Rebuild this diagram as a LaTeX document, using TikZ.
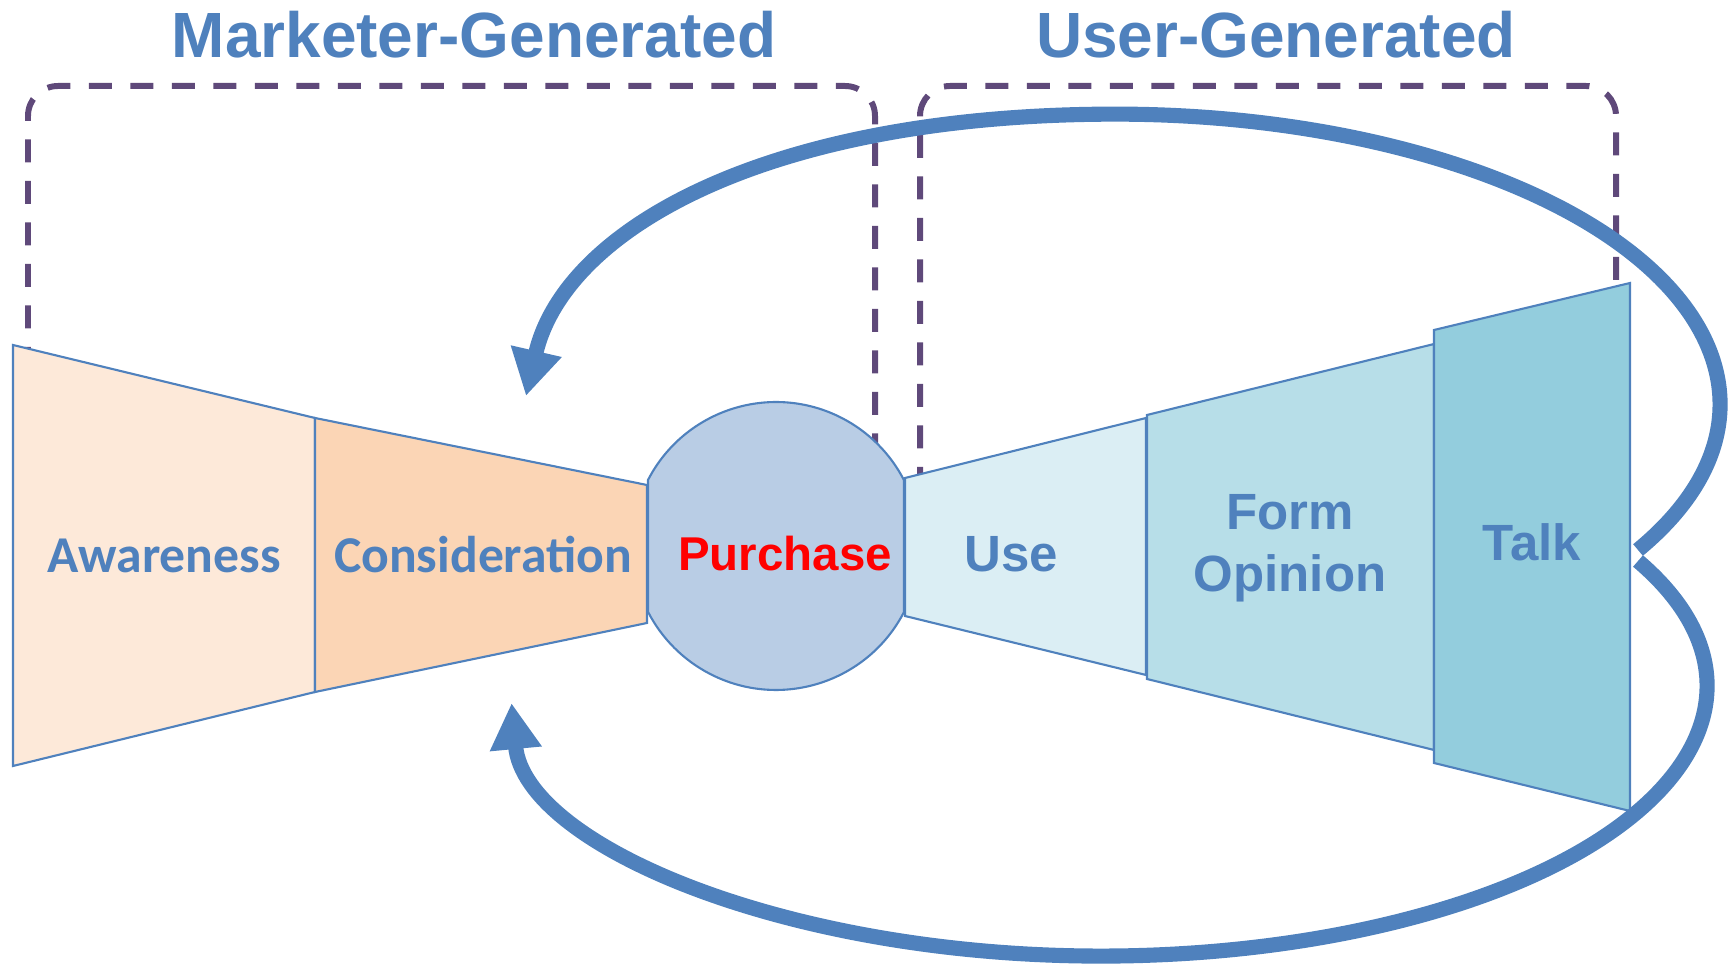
\documentclass[tikz,border=0pt]{standalone}
\usepackage{fontspec}
\setmainfont{Liberation Sans}
\newfontfamily\calibri{Carlito}
\usetikzlibrary{arrows.meta}
\definecolor{accentblue}{HTML}{4F81BD}
\definecolor{boxpurple}{HTML}{5F497A}
\definecolor{awarefill}{HTML}{FDE9D9}
\definecolor{considerfill}{HTML}{FBD5B5}
\definecolor{buyfill}{HTML}{B9CDE5}
\definecolor{usefill}{HTML}{DBEEF4}
\definecolor{opinionfill}{HTML}{B7DEE8}
\definecolor{talkfill}{HTML}{93CDDD}

\begin{document}
\begin{tikzpicture}
	\tikzset{stage/.style={draw=accentblue,line width=0.6pt},
		dashbox/.style={draw=boxpurple,line width=1.7pt,dash pattern=on 2.3mm off 1.85mm,rounded corners=3mm},
		lbl/.style={text=accentblue,anchor=base,inner sep=0pt,font=\bfseries\fontsize{14.5}{17}\selectfont},
		title/.style={text=accentblue,anchor=base,inner sep=0pt,font=\bfseries\fontsize{18.2}{21}\selectfont},
		loop arrow/.style={draw=accentblue,line width=4.3pt,-{Triangle[length=4.6mm,width=4.9mm]}}}
	\useasboundingbox (0,0) rectangle (17.35,9.70);
	
	% Titles
	\node[title] (mktTitle) at (4.74,9.12) {Marketer-Generated};
	\node[title] (userTitle) at (12.76,9.12) {User-Generated};
	
	% Dashed boxes (bottom ends are hidden by the stages)
	\draw[dashbox] (0.28,6.0) -- (0.28,8.84) -- (8.75,8.84) -- (8.75,5.2);
	\draw[dashbox] (9.20,4.8) -- (9.20,8.84) -- (16.16,8.84) -- (16.16,6.6);
	
	% Marketer side of the funnel
	\filldraw[stage,fill=awarefill] (0.13,6.25) -- (3.15,5.52) -- (3.15,2.78) -- (0.13,2.04) -- cycle;
	\filldraw[stage,fill=considerfill] (3.15,5.52) -- (6.47,4.85) -- (6.47,3.47) -- (3.15,2.78) -- cycle;
	
	% Purchase: circle cut by two vertical lines
	\coordinate (buy) at (7.76,4.24);
	\filldraw[stage,fill=buyfill] (6.48,4.90) arc[start angle=152.7,end angle=27.3,radius=1.44]
		-- (9.04,3.58) arc[start angle=-27.3,end angle=-152.7,radius=1.44] -- cycle;
	
	% User side of the funnel
	\filldraw[stage,fill=usefill] (9.05,4.92) -- (11.46,5.52) -- (11.46,2.95) -- (9.05,3.54) -- cycle;
	\filldraw[stage,fill=opinionfill] (11.47,5.55) -- (14.34,6.26) -- (14.34,2.20) -- (11.47,2.91) -- cycle;
	\filldraw[stage,fill=talkfill] (14.34,6.40) -- (16.30,6.87) -- (16.30,1.59) -- (14.34,2.07) -- cycle;
	
	% Stage labels
	\node[lbl,font=\calibri\bfseries\fontsize{14.7}{17}\selectfont] (aware) at (1.64,3.97) {Awareness};
	\node[lbl,font=\calibri\bfseries\fontsize{14.7}{17}\selectfont] (consider) at (4.83,3.97) {Consideration};
	\node[lbl,text=red,font=\bfseries\fontsize{13.5}{16}\selectfont] (purchase) at (7.85,3.99) {Purchase};
	\node[lbl] (use) at (10.11,3.98) {Use};
	\node[lbl] (form) at (12.90,4.40) {Form};
	\node[lbl] (opinion) at (12.90,3.78) {Opinion};
	\node[lbl] (talk) at (15.32,4.09) {Talk};
	
	% Feedback loops from Talk back to Consideration
	\coordinate (talkTop) at (16.38,4.20);
	\coordinate (talkLow) at (16.38,4.09);
	\coordinate (topTip) at (5.26,5.74);
	\coordinate (lowTip) at (5.12,2.67);
	\draw[loop arrow] (talkTop) arc[start angle=-30.2,end angle=90,x radius=6.04,y radius=2.90]
		.. controls +(-3.5,0) and (5.64,7.40) .. (topTip);
	\draw[loop arrow] (talkLow) arc[start angle=27.6,end angle=-90,x radius=6.06,y radius=2.70]
		arc[start angle=270,end angle=182.4,x radius=5.9,y radius=2.64];
	
\end{tikzpicture}
\end{document}
